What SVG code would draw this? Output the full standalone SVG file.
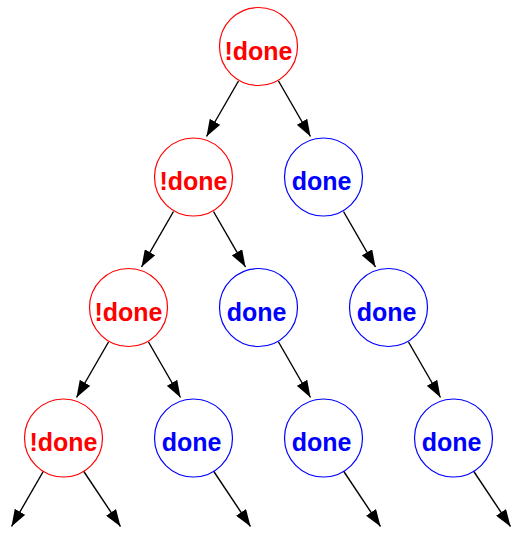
<svg xmlns="http://www.w3.org/2000/svg" width="517" height="533" viewBox="0 0 517 533">
<defs>
<marker id="ah" markerUnits="userSpaceOnUse" markerWidth="17" markerHeight="12" refX="17" refY="6" orient="auto" viewBox="0 0 17 12">
<path d="M0,0 L17,6 L0,12 z" fill="#000"/>
</marker>
<style>
.r circle{fill:none;stroke:#ff0000;stroke-width:1.2}
.b circle{fill:none;stroke:#0000ff;stroke-width:1.2}
.r text{fill:#ff0000}
.b text{fill:#0000ff}
text{font-family:"Liberation Sans",Arial,sans-serif;font-weight:bold;font-size:25px;text-anchor:middle}
#edges line{stroke:#000;stroke-width:1.4;marker-end:url(#ah)}
</style>
</defs>
<g id="edges">
<line x1="238.5" y1="81" x2="206.5" y2="136.5"/>
<line x1="278.5" y1="81" x2="310.5" y2="136.5"/>
<line x1="173.5" y1="211.5" x2="141.5" y2="267"/>
<line x1="213.5" y1="211.5" x2="245.5" y2="267"/>
<line x1="343.5" y1="211.5" x2="375.5" y2="267"/>
<line x1="108.5" y1="342" x2="76.5" y2="397.5"/>
<line x1="148.5" y1="342" x2="180.5" y2="397.5"/>
<line x1="278.5" y1="342" x2="310.5" y2="397.5"/>
<line x1="408.5" y1="342" x2="440.5" y2="397.5"/>
<line x1="43.5" y1="471" x2="11.5" y2="526.5"/>
<line x1="83.5" y1="471" x2="120.5" y2="526.5"/>
<line x1="213.5" y1="471" x2="250.5" y2="526.5"/>
<line x1="343.5" y1="471" x2="380.5" y2="526.5"/>
<line x1="473.5" y1="471" x2="510.5" y2="526.5"/>
</g>
<g id="n1" class="r"><circle cx="258.5" cy="46.5" r="39"/><text x="258.5" y="59.5">!done</text></g>
<g id="n2" class="r"><circle cx="193.5" cy="177" r="39"/><text x="193.5" y="190">!done</text></g>
<g id="n3" class="b"><circle cx="323.5" cy="177" r="39"/><text x="321.5" y="190">done</text></g>
<g id="n4" class="r"><circle cx="128.5" cy="307.5" r="39"/><text x="128.5" y="320.5">!done</text></g>
<g id="n5" class="b"><circle cx="258.5" cy="307.5" r="39"/><text x="256.5" y="320.5">done</text></g>
<g id="n6" class="b"><circle cx="388.5" cy="307.5" r="39"/><text x="386.5" y="320.5">done</text></g>
<g id="n7" class="r"><circle cx="63.5" cy="438" r="39"/><text x="63.5" y="451">!done</text></g>
<g id="n8" class="b"><circle cx="193.5" cy="438" r="39"/><text x="191.5" y="451">done</text></g>
<g id="n9" class="b"><circle cx="323.5" cy="438" r="39"/><text x="321.5" y="451">done</text></g>
<g id="n10" class="b"><circle cx="453.5" cy="438" r="39"/><text x="451.5" y="451">done</text></g>
</svg>
